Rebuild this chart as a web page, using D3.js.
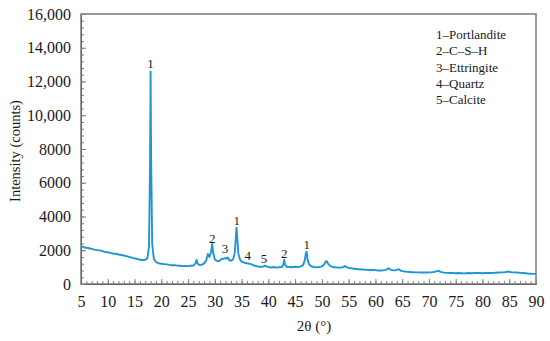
<!DOCTYPE html>
<html>
<head>
<meta charset="utf-8">
<script src="https://cdn.jsdelivr.net/npm/d3@7"></script>
<style>
  body { margin: 0; background: #fff; }
</style>
</head>
<body>
<div id="chart"></div>
<script>
// XRD pattern
const twoTheta = [
  5.0, 5.5, 6.0, 6.5, 7.0, 7.5, 8.0, 8.5, 9.0, 9.5, 10.0, 10.5, 11.0, 11.5, 12.0, 12.5,
  13.0, 13.5, 14.0, 14.5, 15.0, 15.5, 16.0, 16.5, 17.0, 17.4, 17.7, 17.9, 18.0, 18.1,
  18.3, 18.6, 19.0, 19.5, 20.0, 20.5, 21.0, 21.5, 22.0, 22.5, 23.0, 23.5, 24.0, 24.5,
  25.0, 25.5, 26.0, 26.4, 26.6, 26.8, 27.2, 27.6, 28.0, 28.4, 28.7, 29.0, 29.3, 29.5,
  29.7, 30.0, 30.5, 31.0, 31.3, 31.6, 31.9, 32.2, 32.4, 32.7, 33.0, 33.4, 33.7, 33.9,
  34.05, 34.2, 34.4, 34.7, 35.0, 35.5, 36.0, 36.5, 37.0, 37.5, 38.0, 38.5, 39.0, 39.4,
  39.8, 40.2, 40.6, 41.0, 41.5, 42.0, 42.5, 42.8, 42.95, 43.1, 43.5, 44.0, 44.5, 45.0,
  45.5, 46.0, 46.5, 46.8, 47.0, 47.15, 47.3, 47.6, 48.0, 48.5, 49.0, 49.5, 50.0, 50.4,
  50.7, 50.9, 51.2, 51.6, 52.0, 52.5, 53.0, 53.5, 54.0, 54.3, 54.6, 55.0, 55.5, 56.0,
  56.5, 57.0, 57.5, 58.0, 58.5, 59.0, 59.5, 60.0, 60.5, 61.0, 61.5, 62.0, 62.4, 62.8,
  63.2, 63.6, 64.0, 64.3, 64.7, 65.0, 65.5, 66.0, 66.5, 67.0, 67.5, 68.0, 68.5, 69.0,
  69.5, 70.0, 70.5, 71.0, 71.5, 71.8, 72.2, 72.6, 73.0, 73.5, 74.0, 74.5, 75.0, 75.5,
  76.0, 76.5, 77.0, 77.5, 78.0, 78.5, 79.0, 79.5, 80.0, 80.5, 81.0, 81.5, 82.0, 82.5,
  83.0, 83.5, 84.0, 84.5, 84.8, 85.2, 85.5, 86.0, 86.5, 87.0, 87.5, 88.0, 88.5, 89.0,
  89.5, 90.0
];
const intensity = [
  2230, 2180, 2150, 2120, 2080, 2040, 2010, 1990, 1950, 1900, 1880, 1840, 1810, 1790, 1750, 1720,
  1690, 1650, 1600, 1560, 1520, 1480, 1440, 1420, 1430, 1520, 2200, 7000, 12600, 7500,
  2400, 1500, 1300, 1230, 1200, 1180, 1160, 1130, 1110, 1120, 1090, 1080, 1060, 1070,
  1060, 1080, 1100, 1220, 1430, 1200, 1120, 1150, 1220, 1400, 1780, 1600, 1900, 2380,
  1850, 1450, 1350, 1400, 1500, 1480, 1530, 1500, 1570, 1420, 1370, 1450, 1800, 2600,
  3340, 2700, 1800, 1450, 1330, 1260, 1230, 1200, 1150, 1080, 1040, 1020, 1030, 1090,
  1030, 990, 980, 1010, 970, 990, 1000, 1150, 1430, 1150, 1000, 1010, 990, 1020,
  1000, 1030, 1120, 1400, 1800, 1920, 1500, 1150, 1050, 1010, 990, 1000, 1040, 1150,
  1320, 1350, 1180, 1060, 1010, 990, 970, 980, 1000, 1070, 1000, 950, 930, 900,
  890, 870, 860, 850, 840, 830, 840, 820, 800, 800, 810, 840, 930, 850,
  820, 810, 830, 880, 800, 760, 740, 720, 710, 700, 690, 690, 680, 690,
  680, 690, 700, 720, 760, 770, 720, 690, 670, 660, 650, 650, 640, 650,
  640, 630, 640, 650, 640, 650, 660, 650, 640, 650, 660, 650, 660, 670,
  680, 690, 700, 720, 740, 710, 700, 690, 680, 660, 650, 640, 620, 610,
  600, 600
];

// peak markers: phase number, position and height of the label baseline
const peakLabels = ["1", "2", "3", "1", "4", "5", "2", "1"];
const peakTheta = [18.0, 29.5, 31.9, 34.1, 36.15, 39.2, 42.95, 47.15];
const peakLabelY = [12800, 2430, 1850, 3525, 1450, 1255, 1550, 2045];

const legendItems = ["1\u2013Portlandite", "2\u2013C\u2013S\u2013H", "3\u2013Ettringite", "4\u2013Quartz", "5\u2013Calcite"];

const xTicks = [5, 10, 15, 20, 25, 30, 35, 40, 45, 50, 55, 60, 65, 70, 75, 80, 85, 90];
const yTicks = [0, 2000, 4000, 6000, 8000, 10000, 12000, 14000, 16000];

const width = 550;
const height = 341;
const margin = { top: 14, right: 14, bottom: 57, left: 81 };
const w = width - margin.left - margin.right;
const h = height - margin.top - margin.bottom;
const serif = "'Liberation Serif', 'Times New Roman', Times, serif";
const ink = "#1a1a1a";
const axisColor = "#808080";

const svg = d3.select("#chart")
  .append("svg")
  .attr("width", width)
  .attr("height", height)
  .attr("font-family", serif);

const g = svg.append("g")
  .attr("transform", `translate(${margin.left},${margin.top})`);

const x = d3.scaleLinear().domain([5, 90]).range([0, w]);
const y = d3.scaleLinear().domain([0, 16000]).range([h, 0]);

// minor ticks first (inward)
g.append("g")
  .attr("transform", `translate(0,${h})`)
  .call(d3.axisBottom(x).tickValues(d3.range(5, 91, 1)).tickSize(-3).tickFormat(""))
  .call(a => a.select(".domain").remove())
  .call(a => a.selectAll("line").attr("stroke", axisColor));

g.append("g")
  .call(d3.axisLeft(y).tickValues(d3.range(0, 16001, 400)).tickSize(-3).tickFormat(""))
  .call(a => a.select(".domain").remove())
  .call(a => a.selectAll("line").attr("stroke", axisColor));

// major ticks + labels
const fmtY = d => d >= 10000 ? d3.format(",")(d) : String(d);

const xAxis = g.append("g")
  .attr("transform", `translate(0,${h})`)
  .call(d3.axisBottom(x).tickValues(xTicks).tickSizeInner(-5).tickSizeOuter(0).tickPadding(12))
  .attr("font-family", serif)
  .attr("font-size", 16);
xAxis.selectAll("line").attr("stroke", axisColor);
xAxis.selectAll("text").attr("fill", ink);

const yAxis = g.append("g")
  .call(d3.axisLeft(y).tickValues(yTicks).tickFormat(fmtY).tickSizeInner(-5).tickSizeOuter(0).tickPadding(10))
  .attr("font-family", serif)
  .attr("font-size", 16);
yAxis.selectAll("line").attr("stroke", axisColor);
yAxis.selectAll("text").attr("fill", ink);

// frame
g.append("rect")
  .attr("width", w)
  .attr("height", h)
  .attr("fill", "none")
  .attr("stroke", axisColor)
  .attr("stroke-width", 1.6);

// pattern
const points = twoTheta.map((t, i) => [t, intensity[i]]);
const line = d3.line()
  .x(d => x(d[0]))
  .y(d => y(d[1]));

g.append("path")
  .datum(points)
  .attr("d", line)
  .attr("fill", "none")
  .attr("stroke", "#1e96d4")
  .attr("stroke-width", 1.9)
  .attr("stroke-linejoin", "round");

// peak numbers
g.selectAll(".peak")
  .data(peakLabels)
  .enter()
  .append("text")
  .attr("class", "peak")
  .attr("x", (d, i) => x(peakTheta[i]))
  .attr("y", (d, i) => y(peakLabelY[i]))
  .attr("text-anchor", "middle")
  .attr("fill", ink)
  .attr("font-size", 13)
  .text(d => d);

// legend
g.selectAll(".legend")
  .data(legendItems)
  .enter()
  .append("text")
  .attr("class", "legend")
  .attr("x", 436 - margin.left)
  .attr("y", (d, i) => 39 - margin.top + i * 16.3)
  .attr("fill", ink)
  .attr("font-size", 13)
  .text(d => d);

// axis titles
svg.append("text")
  .attr("transform", `translate(20,151) rotate(-90)`)
  .attr("text-anchor", "middle")
  .attr("fill", ink)
  .attr("font-size", 14.5)
  .text("Intensity (counts)");

svg.append("text")
  .attr("x", 314)
  .attr("y", 331)
  .attr("text-anchor", "middle")
  .attr("fill", ink)
  .attr("font-size", 15)
  .text("2\u03b8 (\u00b0)");
</script>
</body>
</html>
